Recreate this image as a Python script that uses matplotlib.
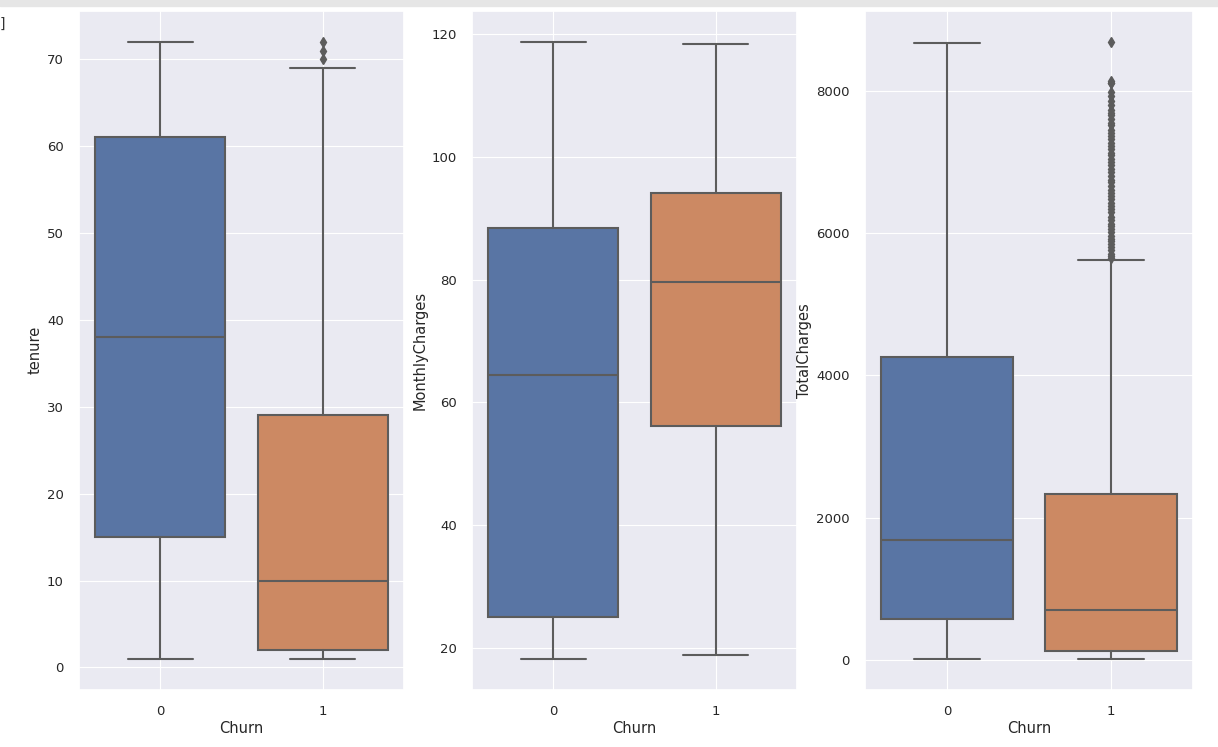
import colorsys
import matplotlib
matplotlib.use('Agg')
import matplotlib.pyplot as plt
import seaborn as sns

sns.set_theme(style='darkgrid')
plt.rcParams['font.family'] = ['DejaVu Sans']
plt.rcParams['grid.linewidth'] = 0.8

# categories (Churn) and box statistics
churn = ['0', '1']
variables = ['tenure', 'MonthlyCharges', 'TotalCharges']

tenure_q1 = [15, 2]
tenure_med = [38, 10]
tenure_q3 = [61, 29]
tenure_lo = [1, 1]
tenure_hi = [72, 69]
tenure_fliers = [[], [70, 71, 72]]

monthly_q1 = [25.1, 56.15]
monthly_med = [64.45, 79.65]
monthly_q3 = [88.4, 94.2]
monthly_lo = [18.25, 18.85]
monthly_hi = [118.75, 118.35]
monthly_fliers = [[], []]

total_q1 = [577.8, 134.5]
total_med = [1683.6, 703.6]
total_q3 = [4264.1, 2331.3]
total_lo = [18.8, 18.85]
total_hi = [8672.5, 5624.9]
total_fliers = [[], [5645, 5680, 5710, 5760, 5800, 5850, 5890, 5920, 5960, 6010,
                     6050, 6100, 6130, 6180, 6230, 6290, 6340, 6380, 6420, 6480,
                     6520, 6560, 6610, 6660, 6710, 6750, 6800, 6860, 6900, 6950,
                     6990, 7040, 7090, 7130, 7180, 7220, 7270, 7320, 7360, 7410,
                     7450, 7510, 7550, 7600, 7650, 7690, 7730, 7800, 7860, 7920,
                     7975, 8100, 8110, 8127.6, 8684.8]]


def desat(c, prop=0.75):
    h, l, s = colorsys.rgb_to_hls(*matplotlib.colors.to_rgb(c))
    return colorsys.hls_to_rgb(h, l, s * prop)


cores = [desat('#4C72B0'), desat('#DD8452')]
cinza = (0.36, 0.36, 0.36)


def estatisticas(q1, med, q3, lo, hi, fl):
    return [dict(label=churn[i], q1=q1[i], med=med[i], q3=q3[i],
                 whislo=lo[i], whishi=hi[i], fliers=fl[i]) for i in range(2)]


dados = [
    estatisticas(tenure_q1, tenure_med, tenure_q3, tenure_lo, tenure_hi, tenure_fliers),
    estatisticas(monthly_q1, monthly_med, monthly_q3, monthly_lo, monthly_hi, monthly_fliers),
    estatisticas(total_q1, total_med, total_q3, total_lo, total_hi, total_fliers),
]

fig = plt.figure(figsize=(12.18, 7.47), dpi=100)
esquerdas = [0.0649, 0.3875, 0.7102]
larguras = [0.2668, 0.2668, 0.2693]

for k in range(3):
    ax = fig.add_axes([esquerdas[k], 0.0768, larguras[k], 0.9085])
    caixas = ax.bxp(dados[k], positions=[0, 1], widths=0.8, patch_artist=True,
                    capwidths=0.4,
                    boxprops=dict(edgecolor=cinza, linewidth=1.5),
                    whiskerprops=dict(color=cinza, linewidth=1.5),
                    capprops=dict(color=cinza, linewidth=1.5),
                    medianprops=dict(color=cinza, linewidth=1.5),
                    flierprops=dict(marker='d', markerfacecolor=cinza,
                                    markeredgecolor=cinza, markersize=5))
    for patch, cor in zip(caixas['boxes'], cores):
        patch.set_facecolor(cor)
    ax.set_xlim(-0.5, 1.5)
    ax.set_xticks([0, 1])
    ax.set_xticklabels(churn)
    ax.tick_params(labelsize=9.5, pad=5)
    ax.set_xlabel('Churn', fontsize=10.5, labelpad=2)
    ax.set_ylabel(variables[k], fontsize=10.5, labelpad=3)

# restos do notebook no topo da captura
fig.text(0.0, 0.963, ']', fontsize=10, color='#333333')
fig.patches.append(plt.Rectangle((0, 0.992), 1, 0.008, transform=fig.transFigure,
                                 color='#e6e6e6', zorder=0))

plt.savefig('out.png', dpi=100, facecolor='white')
